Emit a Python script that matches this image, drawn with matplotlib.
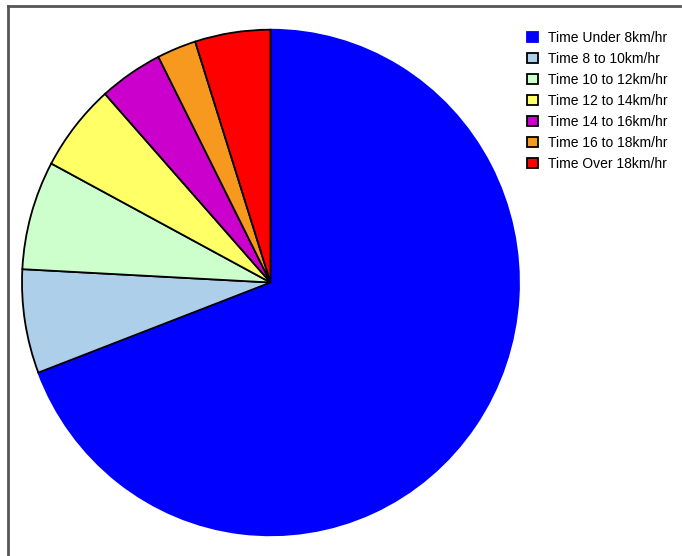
import matplotlib
matplotlib.use('Agg')
import matplotlib.pyplot as plt
from matplotlib.lines import Line2D

labels = ['Time Under 8km/hr', 'Time 8 to 10km/hr', 'Time 10 to 12km/hr',
          'Time 12 to 14km/hr', 'Time 14 to 16km/hr', 'Time 16 to 18km/hr',
          'Time Over 18km/hr']
shares = [69.2, 6.64, 6.96, 5.6, 4.15, 2.55, 4.9]
colors = ['#0000ff', '#aecfea', '#ccffcc', '#ffff66', '#cc00cc', '#f7991f', '#ff0000']

plt.rcParams['font.family'] = ['Liberation Sans', 'DejaVu Sans']

W, H = 682, 556
fig = plt.figure(figsize=(W / 100, H / 100), dpi=100)

# pie is slightly squashed: centre (270.5, 282.5) px, radii 248.5 x 252.8 px
cx, cy, rx, ry = 270.5, 282.5, 248.5, 252.8
ax = fig.add_axes([(cx - rx) / W, (H - cy - ry) / H, 2 * rx / W, 2 * ry / H])
wedges, _ = ax.pie(shares, colors=colors, startangle=90, counterclock=False,
                   radius=1, wedgeprops=dict(linewidth=1.3, edgecolor='black'))
wedges[0].set_edgecolor(colors[0])
wedges[0].set_zorder(0)
ax.set_aspect('auto')
ax.set_xlim(-1, 1)
ax.set_ylim(-1, 1)
ax.axis('off')

# frame lines (top and left)
fig.add_artist(Line2D([7.5 / W, 680 / W], [1 - 5.5 / H, 1 - 5.5 / H], color='#555555', lw=2))
fig.add_artist(Line2D([7.5 / W, 7.5 / W], [0, 1 - 5.5 / H], color='#555555', lw=2))

fig.legend(wedges, labels, loc='upper left', bbox_to_anchor=(527 / W, 1 - 31 / H),
           frameon=False, fontsize=10, handlelength=0.8, handleheight=0.8,
           handletextpad=0.7, labelspacing=0.5, borderpad=0, borderaxespad=0)

fig.savefig('out.png', dpi=100)
